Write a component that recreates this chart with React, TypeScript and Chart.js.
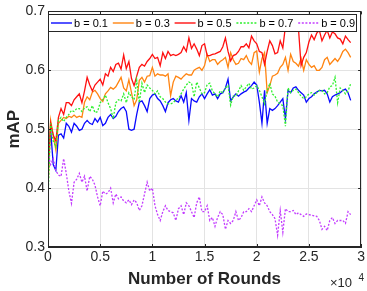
import React, { useEffect, useRef } from "react";
import { Chart, registerables } from "chart.js";
Chart.register(...registerables);

const STEP = 250;
const seriesLabels = ["b = 0.1", "b = 0.3", "b = 0.5", "b = 0.7", "b = 0.9"];
const xTickLabels = ["0", "0.5", "1", "1.5", "2", "2.5", "3"];
const yTickLabels = ["0.3", "0.4", "0.5", "0.6", "0.7"];

const b01 = [0.45,0.50,0.44,0.43,0.49,0.492,0.485,0.51,0.505,0.495,0.51,0.505,0.498,0.50,0.51,0.515,0.51,0.508,0.518,0.512,0.52,0.506,0.51,0.52,0.525,0.518,0.522,0.53,0.535,0.538,0.53,0.50,0.498,0.50,0.525,0.546,0.548,0.54,0.53,0.552,0.558,0.56,0.552,0.548,0.54,0.53,0.545,0.55,0.552,0.548,0.546,0.557,0.546,0.562,0.515,0.552,0.548,0.546,0.555,0.56,0.552,0.56,0.567,0.558,0.56,0.552,0.56,0.562,0.57,0.585,0.548,0.555,0.56,0.556,0.56,0.563,0.565,0.57,0.574,0.58,0.575,0.546,0.51,0.566,0.51,0.535,0.532,0.535,0.54,0.546,0.552,0.518,0.566,0.562,0.57,0.572,0.566,0.562,0.558,0.546,0.552,0.555,0.56,0.563,0.566,0.565,0.566,0.56,0.546,0.555,0.558,0.56,0.562,0.566,0.568,0.562,0.549];
const b03 = [0.40,0.515,0.49,0.465,0.51,0.515,0.52,0.518,0.522,0.52,0.524,0.52,0.522,0.52,0.546,0.555,0.55,0.563,0.566,0.56,0.552,0.547,0.56,0.565,0.571,0.568,0.572,0.58,0.588,0.57,0.565,0.584,0.562,0.54,0.55,0.583,0.588,0.58,0.59,0.591,0.605,0.59,0.594,0.592,0.592,0.59,0.594,0.557,0.58,0.59,0.588,0.585,0.59,0.594,0.592,0.592,0.60,0.603,0.605,0.60,0.608,0.627,0.615,0.618,0.618,0.61,0.615,0.618,0.622,0.605,0.63,0.618,0.61,0.612,0.62,0.618,0.625,0.615,0.61,0.63,0.633,0.597,0.62,0.63,0.562,0.574,0.59,0.592,0.595,0.605,0.61,0.622,0.60,0.627,0.615,0.612,0.607,0.62,0.60,0.618,0.61,0.605,0.608,0.60,0.60,0.605,0.618,0.622,0.61,0.615,0.62,0.615,0.622,0.632,0.636,0.63,0.622];
const b05 = [0.42,0.51,0.49,0.48,0.52,0.535,0.525,0.545,0.545,0.54,0.55,0.555,0.56,0.545,0.565,0.588,0.575,0.565,0.575,0.58,0.585,0.575,0.594,0.59,0.605,0.598,0.61,0.612,0.602,0.626,0.603,0.615,0.586,0.574,0.59,0.605,0.61,0.607,0.615,0.62,0.627,0.62,0.622,0.608,0.63,0.62,0.632,0.625,0.627,0.625,0.627,0.63,0.64,0.632,0.655,0.637,0.645,0.636,0.625,0.642,0.645,0.625,0.625,0.627,0.628,0.63,0.632,0.64,0.655,0.632,0.616,0.625,0.627,0.632,0.64,0.64,0.645,0.638,0.658,0.65,0.645,0.632,0.63,0.61,0.632,0.65,0.642,0.628,0.63,0.65,0.638,0.675,0.685,0.69,0.675,0.68,0.67,0.608,0.622,0.63,0.648,0.66,0.652,0.663,0.668,0.65,0.66,0.668,0.655,0.665,0.662,0.655,0.653,0.645,0.658,0.652,0.647];
const b07 = [0.38,0.51,0.48,0.47,0.515,0.52,0.513,0.52,0.525,0.532,0.53,0.535,0.535,0.53,0.536,0.538,0.53,0.54,0.528,0.53,0.545,0.55,0.558,0.545,0.535,0.518,0.545,0.55,0.548,0.56,0.545,0.562,0.555,0.55,0.583,0.545,0.578,0.562,0.575,0.57,0.566,0.56,0.565,0.555,0.552,0.546,0.543,0.543,0.545,0.55,0.552,0.56,0.568,0.575,0.58,0.578,0.555,0.58,0.57,0.56,0.562,0.576,0.578,0.565,0.56,0.555,0.565,0.562,0.57,0.574,0.541,0.556,0.556,0.565,0.574,0.566,0.572,0.578,0.568,0.57,0.574,0.566,0.555,0.543,0.565,0.578,0.56,0.556,0.546,0.543,0.54,0.505,0.57,0.562,0.566,0.568,0.562,0.556,0.552,0.555,0.56,0.562,0.558,0.562,0.566,0.566,0.56,0.562,0.572,0.574,0.588,0.545,0.57,0.566,0.56,0.565,0.577];
const b09 = [0.46,0.44,0.45,0.43,0.422,0.42,0.45,0.425,0.395,0.374,0.41,0.415,0.425,0.41,0.42,0.395,0.42,0.415,0.405,0.385,0.37,0.395,0.39,0.392,0.40,0.375,0.39,0.382,0.385,0.378,0.375,0.38,0.372,0.38,0.375,0.362,0.37,0.39,0.41,0.395,0.40,0.37,0.355,0.345,0.36,0.37,0.362,0.36,0.358,0.345,0.365,0.37,0.355,0.375,0.37,0.36,0.35,0.375,0.385,0.36,0.36,0.37,0.345,0.35,0.335,0.35,0.36,0.355,0.33,0.345,0.34,0.345,0.36,0.345,0.35,0.36,0.36,0.365,0.36,0.37,0.38,0.37,0.385,0.375,0.37,0.36,0.355,0.348,0.32,0.362,0.325,0.365,0.36,0.36,0.362,0.355,0.358,0.355,0.352,0.356,0.355,0.354,0.353,0.352,0.345,0.33,0.335,0.328,0.345,0.35,0.34,0.345,0.345,0.345,0.34,0.36,0.355];

const seriesValues = [b01, b03, b05, b07, b09];
const colors = ["#0a0aff", "#ff8411", "#ff1010", "#2ef02e", "#c33cff"];
const dashes: number[][] = [[], [], [], [2, 1.6], [2, 1.6]];

const INK = "#262626";
const FONT = "'Liberation Sans', Arial, Helvetica, sans-serif";

const framePlugin = {
  id: "frame",
  afterDatasetsDraw(chart: any) {
    const { ctx, chartArea: a, scales } = chart;
    ctx.save();
    // legend box
    const lx = a.left, ly = 14, lw = 309, lh = 18;
    ctx.fillStyle = "#ffffff";
    ctx.fillRect(lx, ly, lw, lh);
    ctx.strokeStyle = INK;
    ctx.lineWidth = 1;
    ctx.strokeRect(lx + 0.5, ly + 0.5, lw - 1, lh - 1);
    ctx.font = `11px ${FONT}`;
    ctx.textBaseline = "middle";
    ctx.textAlign = "left";
    seriesLabels.forEach((lab, i) => {
      const sx = lx + 3 + i * 61.8;
      const cy = ly + lh / 2;
      ctx.save();
      ctx.strokeStyle = colors[i];
      ctx.lineWidth = 1.4;
      ctx.setLineDash(dashes[i]);
      ctx.beginPath();
      ctx.moveTo(sx, cy);
      ctx.lineTo(sx + 21, cy);
      ctx.stroke();
      ctx.restore();
      ctx.fillStyle = "#000000";
      ctx.fillText(lab, sx + 23, cy + 0.5);
    });
    // ticks inward
    ctx.strokeStyle = INK;
    ctx.lineWidth = 1;
    const tl = 3;
    ctx.beginPath();
    scales.x.ticks.forEach((t: any) => {
      const px = Math.round(scales.x.getPixelForValue(t.value)) + 0.5;
      ctx.moveTo(px, a.bottom);
      ctx.lineTo(px, a.bottom - tl);
      ctx.moveTo(px, a.top);
      ctx.lineTo(px, a.top + tl);
    });
    scales.y.ticks.forEach((t: any) => {
      const py = Math.round(scales.y.getPixelForValue(t.value)) + 0.5;
      ctx.moveTo(a.left, py);
      ctx.lineTo(a.left + tl, py);
      ctx.moveTo(a.right, py);
      ctx.lineTo(a.right - tl, py);
    });
    ctx.stroke();
    ctx.strokeRect(Math.round(a.left) + 0.5, Math.round(a.top) + 0.5, Math.round(a.width) - 1, Math.round(a.height) - 1);
    // exponent
    ctx.fillStyle = INK;
    ctx.textBaseline = "alphabetic";
    ctx.font = `13px ${FONT}`;
    ctx.fillText("\u00d710", 330, 287);
    ctx.font = `10px ${FONT}`;
    ctx.fillText("4", 358.5, 281);
    ctx.restore();
  },
};

export default function App() {
  const ref = useRef<HTMLCanvasElement>(null);
  useEffect(() => {
    document.body.style.margin = "0";
    const canvas = ref.current!;
    const datasets = seriesValues.map((vals, i) => ({
      label: seriesLabels[i],
      data: vals.map((v, j) => ({ x: j * STEP, y: v })),
      borderColor: colors[i],
      backgroundColor: colors[i],
      borderWidth: 1.3,
      borderDash: dashes[i],
      pointRadius: 0,
      tension: 0,
      fill: false,
      order: 5 - i,
    }));
    const chart = new Chart(canvas, {
      type: "line",
      data: { datasets },
      plugins: [framePlugin],
      options: {
        animation: false,
        responsive: false,
        events: [],
        layout: { padding: { top: 8, right: 3, left: 0, bottom: 0 } },
        plugins: { legend: { display: false }, tooltip: { enabled: false } },
        scales: {
          x: {
            type: "linear",
            min: 0,
            max: 30000,
            afterFit: (s: any) => { s.height = 44; },
            afterBuildTicks: (s: any) => { s.ticks = xTickLabels.map((_, i) => ({ value: i * 5000 })); },
            ticks: {
              padding: 2,
              color: INK,
              font: { family: FONT, size: 14 },
              maxRotation: 0,
              callback: (v: any) => xTickLabels[Math.round(Number(v) / 5000)],
            },
            grid: { color: "#e3e3e3", drawTicks: false },
            border: { display: true, color: INK },
            title: {
              display: true,
              text: "Number of Rounds",
              color: INK,
              font: { family: FONT, size: 17, weight: "bold" },
              padding: { top: 0, bottom: 1 },
            },
          },
          y: {
            type: "linear",
            min: 0.3,
            max: 0.7,
            afterFit: (s: any) => { s.width = 48; },
            afterBuildTicks: (s: any) => { s.ticks = yTickLabels.map((l) => ({ value: Number(l) })); },
            ticks: {
              padding: 3,
              color: INK,
              font: { family: FONT, size: 14 },
              callback: (v: any) => Number(v).toFixed(1),
            },
            grid: { color: "#e3e3e3", drawTicks: false },
            border: { display: true, color: INK },
            title: {
              display: true,
              text: "mAP",
              color: INK,
              font: { family: FONT, size: 17, weight: "bold" },
              padding: { top: 4, bottom: 0 },
            },
          },
        },
      },
    } as any);
    return () => chart.destroy();
  }, []);
  return (
    <div style={{ width: 367, height: 291 }}>
      <canvas ref={ref} width={367} height={291} style={{ width: 367, height: 291, display: "block" }} />
    </div>
  );
}
